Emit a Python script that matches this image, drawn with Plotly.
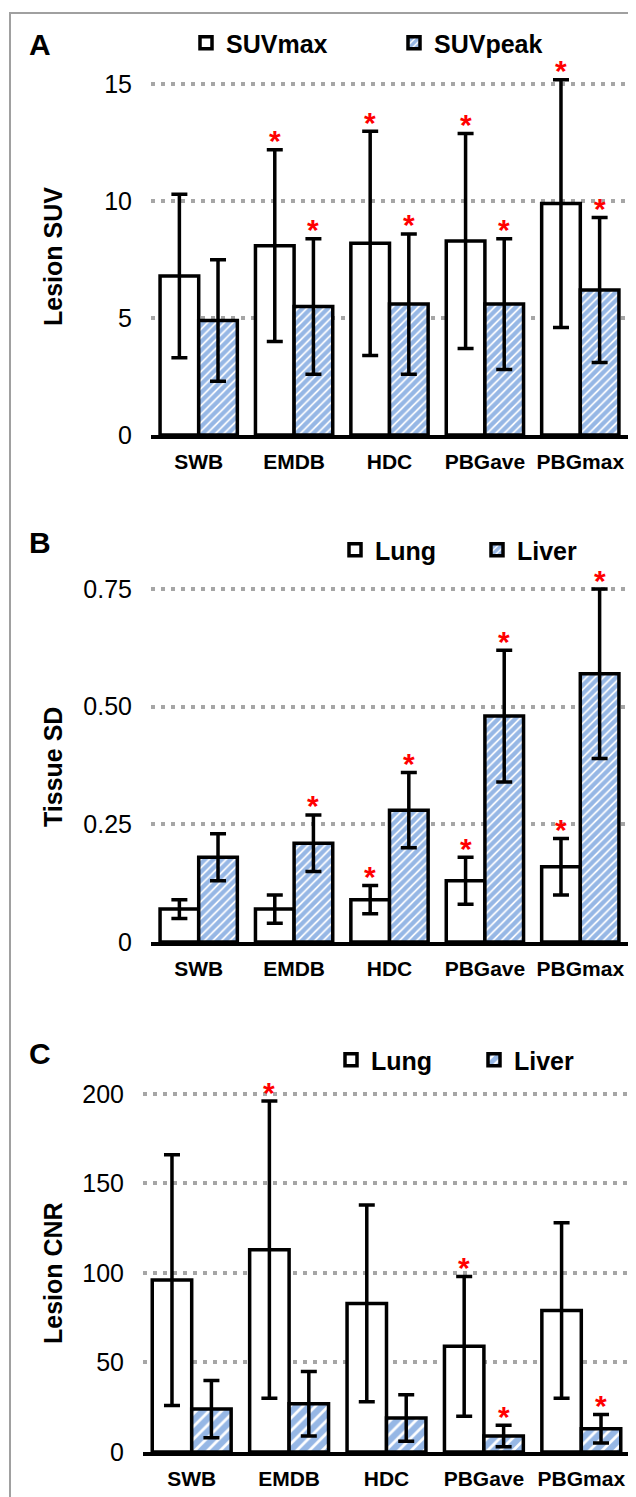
import plotly.graph_objects as go

W, H = 636, 1497
# the page body adds an 8px margin; positions below are page pixels
OX, OY = 8, 8

categories = ["SWB", "EMDB", "HDC", "PBGave", "PBGmax"]

# Panel A: Lesion SUV
suvmax = [6.8, 8.1, 8.2, 8.3, 9.9]
suvmax_err = [3.5, 4.1, 4.8, 4.6, 5.3]
suvpeak = [4.9, 5.5, 5.6, 5.6, 6.2]
suvpeak_err = [2.6, 2.9, 3.0, 2.8, 3.1]
sig_suvmax = [0, 1, 1, 1, 1]
sig_suvpeak = [0, 1, 1, 1, 1]

# Panel B: Tissue SD
sd_lung = [0.07, 0.07, 0.09, 0.13, 0.16]
sd_lung_err = [0.02, 0.03, 0.03, 0.05, 0.06]
sd_liver = [0.18, 0.21, 0.28, 0.48, 0.57]
sd_liver_err = [0.05, 0.06, 0.08, 0.14, 0.18]
sig_sd_lung = [0, 0, 1, 1, 1]
sig_sd_liver = [0, 1, 1, 1, 1]

# Panel C: Lesion CNR
cnr_lung = [96, 113, 83, 59, 79]
cnr_lung_err = [70, 83, 55, 39, 49]
cnr_liver = [24, 27, 19, 9, 13]
cnr_liver_err = [16, 18, 13, 6, 8]
sig_cnr_lung = [0, 1, 0, 1, 0]
sig_cnr_liver = [0, 0, 0, 1, 1]

ticks_a = [0, 5, 10, 15]
ticklabels_a = ["0", "5", "10", "15"]
ticks_b = [0, 0.25, 0.5, 0.75]
ticklabels_b = ["0", "0.25", "0.50", "0.75"]
ticks_c = [0, 50, 100, 150, 200]
ticklabels_c = ["0", "50", "100", "150", "200"]

BLUE = "#2e6fcc"
GRID = "#a6a6a6"
FONT = "Liberation Sans, Arial, sans-serif"
BARGAP = 0.19
OFF = (1 - BARGAP) / 4


def px(x):
    return (x - OX) / W


def py(y):
    return 1 - (y - OY) / H


xpos = list(range(len(categories)))

panels = [
    dict(name1="SUVmax", name2="SUVpeak", v1=suvmax, e1=suvmax_err, v2=suvpeak, e2=suvpeak_err,
         s1=sig_suvmax, s2=sig_suvpeak, ticks=ticks_a, labels=ticklabels_a, rng=[0, 16],
         xdom=(151, 628), ydom=(61, 435), title="Lesion SUV", letter="A", letter_y=44,
         title_y=257, leg_x=186, leg_y=43, entry=163, psize=6, psol=0.7),
    dict(name1="Lung", name2="Liver", v1=sd_lung, e1=sd_lung_err, v2=sd_liver, e2=sd_liver_err,
         s1=sig_sd_lung, s2=sig_sd_liver, ticks=ticks_b, labels=ticklabels_b, rng=[0, 0.8],
         xdom=(151, 628), ydom=(565.5, 942), title="Tissue SD", letter="B", letter_y=543,
         title_y=767, leg_x=335, leg_y=550, entry=97, psize=6, psol=0.7),
    dict(name1="Lung", name2="Liver", v1=cnr_lung, e1=cnr_lung_err, v2=cnr_liver, e2=cnr_liver_err,
         s1=sig_cnr_lung, s2=sig_cnr_liver, ticks=ticks_c, labels=ticklabels_c, rng=[0, 210],
         xdom=(143, 630), ydom=(1076, 1452), title="Lesion CNR", letter="C", letter_y=1053,
         title_y=1273, leg_x=331, leg_y=1060, entry=98, psize=9, psol=0.7),
]

fig = go.Figure()
annotations = []
layout = {}

for k, p in enumerate(panels):
    idx = "" if k == 0 else str(k + 1)
    xa, ya = "x" + idx, "y" + idx
    leg = "legend" + idx
    fig.add_trace(go.Bar(
        x=xpos, y=p["v1"], name=p["name1"], xaxis=xa, yaxis=ya, legend=leg,
        marker=dict(color="white", line=dict(color="black", width=3.5)),
        error_y=dict(type="data", array=p["e1"], color="black", thickness=3.5, width=8),
    ))
    fig.add_trace(go.Bar(
        x=xpos, y=p["v2"], name=p["name2"], xaxis=xa, yaxis=ya, legend=leg,
        marker=dict(color="white", line=dict(color="black", width=3.5),
                    pattern=dict(shape="/", fgcolor=BLUE, bgcolor="white",
                                 size=p["psize"], solidity=p["psol"])),
        error_y=dict(type="data", array=p["e2"], color="black", thickness=3.5, width=8),
    ))
    # significance stars
    for i in xpos:
        for sig, v, e, sgn in ((p["s1"], p["v1"], p["e1"], -1), (p["s2"], p["v2"], p["e2"], 1)):
            if sig[i]:
                annotations.append(dict(
                    x=i + sgn * OFF, y=v[i] + e[i], xref=xa, yref=ya, text="*",
                    showarrow=False, yanchor="middle", yshift=9,
                    font=dict(family=FONT, size=30, color="#ff0000", weight="bold"),
                ))
    # panel letter
    annotations.append(dict(
        x=px(27), y=py(p["letter_y"]), xref="paper", yref="paper", text="<b>%s</b>" % p["letter"],
        showarrow=False, xanchor="left", yanchor="middle",
        font=dict(family=FONT, size=30, color="black"),
    ))
    # axis title
    annotations.append(dict(
        x=px(53), y=py(p["title_y"]), xref="paper", yref="paper", text="<b>%s</b>" % p["title"],
        showarrow=False, xanchor="center", yanchor="middle", textangle=-90,
        font=dict(family=FONT, size=25, color="black"),
    ))
    xkey = "xaxis" + idx
    ykey = "yaxis" + idx
    layout[xkey] = dict(
        domain=[px(p["xdom"][0]), px(p["xdom"][1])], anchor=ya, range=[-0.5, 4.5],
        tickvals=xpos, ticktext=categories, showgrid=False, zeroline=False,
        showline=True, linecolor="black", linewidth=4, ticks="",
        tickfont=dict(family=FONT, size=21, color="black", weight="bold"),
        ticklabelstandoff=5, fixedrange=True,
    )
    layout[ykey] = dict(
        domain=[py(p["ydom"][1]), py(p["ydom"][0])], anchor=xa, range=p["rng"],
        tickvals=p["ticks"], ticktext=p["labels"], showgrid=True, gridcolor=GRID,
        gridwidth=4, griddash="4px,6px", zeroline=False, showline=False, ticks="",
        tickfont=dict(family=FONT, size=25, color="black"), ticklabelstandoff=18,
    )
    layout[leg] = dict(
        x=px(p["leg_x"]), y=py(p["leg_y"]), xanchor="left", yanchor="middle",
        orientation="h", bgcolor="rgba(0,0,0,0)", entrywidth=p["entry"],
        font=dict(family=FONT, size=25, color="black", weight="bold"),
        itemclick=False, itemdoubleclick=False,
    )

fig.update_layout(
    width=W, height=H, margin=dict(l=0, r=0, t=0, b=0, autoexpand=False),
    paper_bgcolor="white", plot_bgcolor="white",
    barmode="group", bargap=BARGAP, bargroupgap=0,
    showlegend=True, annotations=annotations,
    shapes=[dict(type="rect", xref="paper", yref="paper", x0=px(10), x1=1.05,
                 y0=-0.05, y1=py(13), line=dict(color="#a0a0a0", width=2), layer="below")],
    **layout,
)

fig.write_html("out.html")
